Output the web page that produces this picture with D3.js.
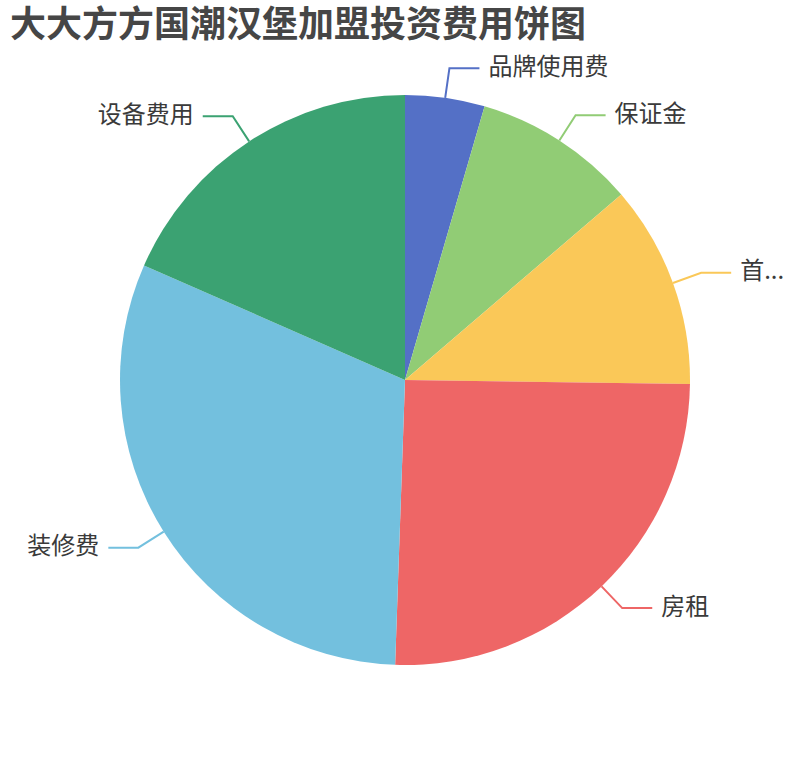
<!DOCTYPE html>
<html>
<head>
<meta charset="utf-8">
<script src="https://cdn.jsdelivr.net/npm/d3@7"></script>
<style>
  body { margin: 0; background: #fff; }
  svg { display: block; font-family: "Noto Sans CJK SC", "Noto Sans", sans-serif; }
</style>
</head>
<body>
<div id="chart"></div>
<script>
const titleText = "大大方方国潮汉堡加盟投资费用饼图";
const categories = ["品牌使用费", "保证金", "首批进货", "房租", "装修费", "设备费用"];
const values = [4.5, 9.2, 11.5, 25.3, 31.0, 18.4];
const colors = ["#5470c6", "#91cc75", "#fac858", "#ee6666", "#73c0de", "#3ba272"];

const width = 810, height = 760;
const cx = 405, cy = 380, radius = 285;
const len1 = 30, len2 = 30, gap = 9;

const svg = d3.select("#chart").append("svg")
  .attr("width", width)
  .attr("height", height);

svg.append("text")
  .attr("x", 10)
  .attr("y", 27)
  .attr("dominant-baseline", "middle")
  .attr("font-size", 36)
  .attr("font-weight", "bold")
  .attr("fill", "#464646")
  .text(titleText);

const data = categories.map((c, i) => ({ name: c, value: values[i], color: colors[i] }));

const pie = d3.pie().value(d => d.value).sort(null);
const arc = d3.arc().innerRadius(0).outerRadius(radius);

const g = svg.append("g").attr("transform", `translate(${cx},${cy})`);

const arcs = pie(data);

g.selectAll("path.slice")
  .data(arcs)
  .enter().append("path")
  .attr("class", "slice")
  .attr("d", arc)
  .attr("fill", d => d.data.color);

// label lines: out along the mid angle, then flat
function pt(a, r) { return [r * Math.sin(a), -r * Math.cos(a)]; }

const labels = g.selectAll("g.lbl")
  .data(arcs)
  .enter().append("g")
  .attr("class", "lbl");

labels.each(function (d) {
  const mid = (d.startAngle + d.endAngle) / 2;
  const p1 = pt(mid, radius);
  const p2 = pt(mid, radius + len1);
  const right = Math.sin(mid) >= 0;
  const p3 = [p2[0] + (right ? len2 : -len2), p2[1]];
  const sel = d3.select(this);
  sel.append("polyline")
    .attr("points", [p1, p2, p3].map(p => p.join(",")).join(" "))
    .attr("fill", "none")
    .attr("stroke", d.data.color)
    .attr("stroke-width", 2);
  const t = sel.append("text")
    .attr("x", p3[0] + (right ? gap : -gap))
    .attr("y", p3[1])
    .attr("dominant-baseline", "middle")
    .attr("text-anchor", right ? "start" : "end")
    .attr("font-size", 24)
    .attr("fill", "#3a3a3a")
    .text(d.data.name);
  // truncate labels that run past the right edge, like the original
  if (right) {
    const maxW = width - 20 - (cx + p3[0] + gap);
    let s = d.data.name;
    while (t.node().getComputedTextLength() > maxW && s.length > 1) {
      s = s.slice(0, -1);
      t.text(s + "...");
    }
  }
});
</script>
</body>
</html>
